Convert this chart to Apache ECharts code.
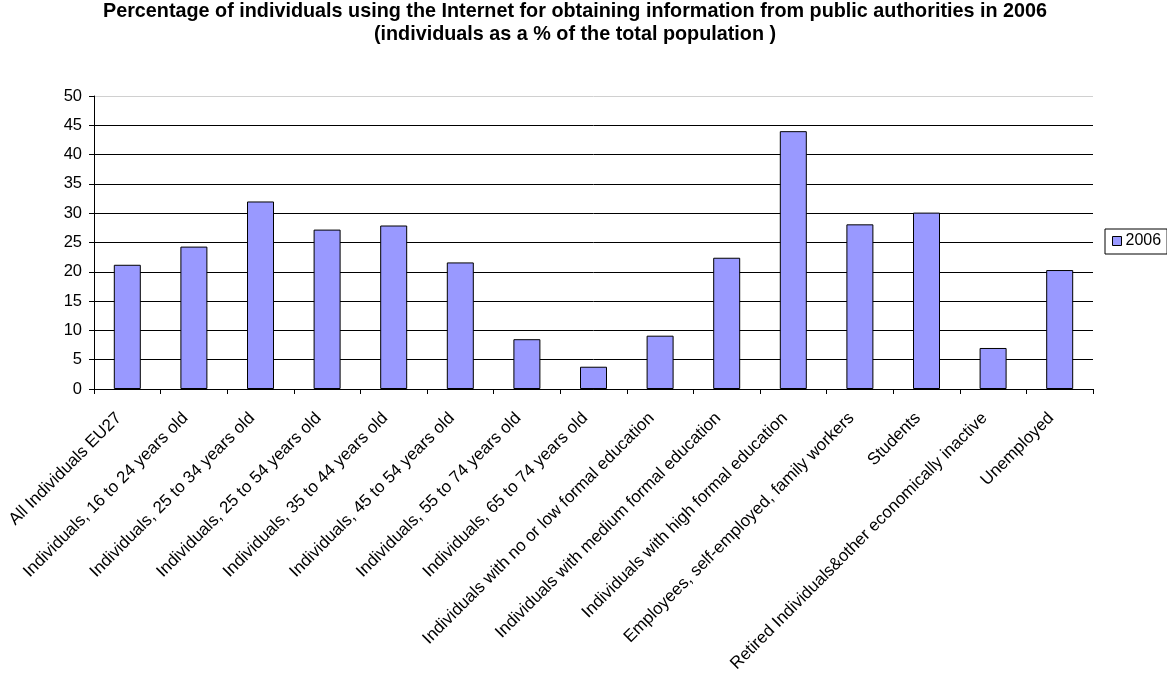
<!DOCTYPE html>
<html>
<head>
<meta charset="utf-8">
<script src="https://cdn.jsdelivr.net/npm/echarts@6/dist/echarts.min.js"></script>
<style>html,body{margin:0;padding:0;background:#fff;}#c{width:1167px;height:688px;}</style>
</head>
<body>
<div id="c"></div>
<script>
const categories = [
  "All Individuals EU27",
  "Individuals, 16 to 24 years old",
  "Individuals, 25 to 34 years old",
  "Individuals, 25 to 54 years old",
  "Individuals, 35 to 44 years old",
  "Individuals, 45 to 54 years old",
  "Individuals, 55 to 74 years old",
  "Individuals, 65 to 74 years old",
  "Individuals with no or low formal education",
  "Individuals with medium formal education",
  "Individuals with high formal education",
  "Employees, self-employed, family workers",
  "Students",
  "Retired Individuals&other economically inactive",
  "Unemployed"
];
const values2006 = [21.2, 24.3, 32.0, 27.2, 27.9, 21.6, 8.5, 3.8, 9.1, 22.4, 44.0, 28.1, 30.1, 7.0, 20.3];
const seriesName = "2006";
const titleText = "Percentage of individuals using the Internet for obtaining information from public authorities in 2006\n(individuals as a % of the total population )";

const chart = echarts.init(document.getElementById('c'));
const font = 'Liberation Sans, Arial, sans-serif';
chart.setOption({
  animation: false,
  backgroundColor: '#fff',
  title: {
    text: titleText,
    left: 575,
    top: 0,
    textAlign: 'center',
    padding: 0,
    textStyle: { fontFamily: font, fontSize: 19.8, fontWeight: 'bold', color: '#000', lineHeight: 23 }
  },
  legend: {
    data: [seriesName],
    left: 1105,
    top: 229,
    orient: 'vertical',
    icon: 'rect',
    backgroundColor: '#fff',
    borderColor: '#000',
    borderWidth: 1,
    borderRadius: 0,
    padding: [4, 6, 5, 7],
    itemWidth: 9,
    itemHeight: 9,
    itemGap: 4,
    textStyle: { fontFamily: font, fontSize: 16, lineHeight: 16, color: '#000', padding: [0, 0, 0, -1] },
    itemStyle: { borderColor: '#000', borderWidth: 1 }
  },
  grid: { left: 94, right: 74, top: 96, bottom: 299, containLabel: false },
  xAxis: {
    type: 'category',
    data: categories,
    boundaryGap: true,
    axisLine: { lineStyle: { color: '#000', width: 1 } },
    axisTick: { show: true, length: 5, alignWithLabel: false, lineStyle: { color: '#000' } },
    axisLabel: { interval: 0, rotate: 45, margin: 18, padding: [0, 12, 0, 0], fontFamily: font, fontSize: 17, color: '#000' }
  },
  yAxis: {
    type: 'value',
    min: 0,
    max: 50,
    interval: 5,
    axisLine: { show: true, lineStyle: { color: '#000', width: 1 } },
    axisTick: { show: true, length: 5, lineStyle: { color: '#000' } },
    axisLabel: { margin: 12, fontFamily: font, fontSize: 16.5, color: '#000' },
    splitLine: { show: true, lineStyle: { color: ['#000','#000','#000','#000','#000','#000','#000','#000','#000','#000','#d0d0d0'], width: 1 } }
  },
  series: [{
    name: seriesName,
    type: 'bar',
    data: values2006,
    barWidth: 27,
    itemStyle: { color: '#9999FF', borderColor: '#000', borderWidth: 1 }
  }]
});
</script>
</body>
</html>
